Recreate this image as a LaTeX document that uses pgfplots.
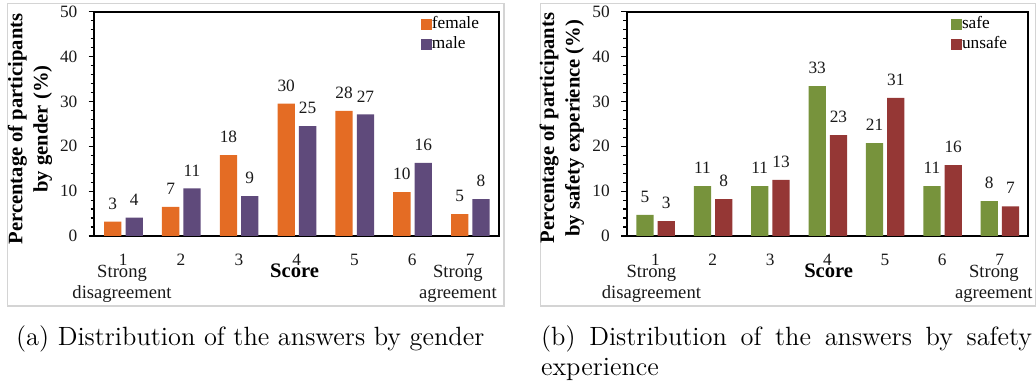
\documentclass[border=0pt]{standalone}
\usepackage{fontspec}
\usepackage{pgfplots}
\pgfplotsset{compat=1.18}
\newfontfamily\tnr{Liberation Serif}
\definecolor{cfem}{HTML}{E46C24}
\definecolor{cmale}{HTML}{5F4A7B}
\definecolor{csafe}{HTML}{77933C}
\definecolor{cunsafe}{HTML}{953735}
\definecolor{boxgray}{HTML}{D4D4D4}
\newcommand\tickfont{\tnr\fontsize{8.65pt}{10pt}\selectfont}
\newcommand\notefont{\tnr\fontsize{9.3pt}{10pt}\selectfont}
\newcommand\titlefont{\tnr\bfseries\fontsize{10.3pt}{12.7pt}\selectfont}
\newcommand\legfont{\tnr\fontsize{8.65pt}{10pt}\selectfont}
\tikzset{note/.style={font=\notefont, text=black!90, anchor=base, inner sep=0pt}}
\pgfplotsset{
  myaxis/.style={
    scale only axis, height=112.15pt, anchor=south west,
    xmin=0.5, xmax=7.5, ymin=0, ymax=50,
    xtick={1,...,7}, ytick={0,10,...,50}, minor ytick={2,4,...,48},
    xtick style={draw=none},
    ytick pos=left, tick align=outside,
    major tick length=2.8pt, minor tick length=1.8pt,
    every tick/.style={black, line width=0.6pt},
    axis line style={line width=1pt},
    ybar, bar width=0.30,
    clip=false,
    /pgf/number format/assume math mode=true,
    ticklabel style={font=\tickfont, text=black!90},
    yticklabel style={inner sep=0pt, xshift=-5.5pt},
    xticklabel style={inner sep=0pt, anchor=base, yshift=-11.85pt},
    nodes near coords, point meta=explicit symbolic,
    every node near coord/.append style={font=\tickfont, text=black!90, anchor=base, inner sep=0pt, yshift=6.2pt},
    legend image code/.code={\fill[##1] (0pt,-2.6pt) rectangle (5.3pt,2.6pt);},
    legend cell align=left,
    legend style={draw=none, fill=none, anchor=north west, font=\legfont,
      inner sep=0pt, row sep=0pt,
      nodes={inner sep=0pt, text height=7pt, text depth=3pt},
      /tikz/every even column/.append style={column sep=1.7pt}},
  },
}
\begin{document}
\begin{tikzpicture}
\useasboundingbox (0,0) rectangle (518pt,192pt);
\draw[boxgray, line width=0.6pt] (3.65pt,39pt) rectangle (252pt,190.35pt);
\draw[boxgray, line width=0.6pt] (270.35pt,39pt) rectangle (517.6pt,190.35pt);

% ---------- (a) ----------
\begin{axis}[myaxis, at={(47.15pt,74pt)}, width=202.35pt,
  legend style={at={(rel axis cs:0.807,0.99)}}]
\addplot[fill=cfem, draw=none, bar shift=-0.18] coordinates {
 (1,3.2) [3] (2,6.5) [7] (3,18.0) [18] (4,29.5) [30] (5,27.9) [28] (6,9.8) [10] (7,4.9) [5]};
\addlegendentry{female}
\addplot[fill=cmale, draw=none, bar shift=0.19] coordinates {
 (1,4.1) [4] (2,10.6) [11] (3,8.9) [9] (4,24.5) [25] (5,27.1) [27] (6,16.3) [16] (7,8.2) [8]};
\addlegendentry{male}
\node[note] at (axis cs:0.98,0) [yshift=-20.85pt] {Strong};
\node[note] at (axis cs:0.98,0) [yshift=-31.15pt] {disagreement};
\node[note] at (axis cs:6.79,0) [yshift=-20.85pt] {Strong};
\node[note] at (axis cs:6.79,0) [yshift=-31.15pt] {agreement};
\node[font=\titlefont, anchor=base, inner sep=0pt] at (axis cs:3.965,0) [yshift=-20.85pt] {Score};
\node[font=\titlefont, align=center, rotate=90, anchor=center, inner sep=0pt] at (rel axis cs:-0.1589,0.477)
  {Percentage of participants\\by gender (\%)};
\end{axis}

% ---------- (b) ----------
\begin{axis}[myaxis, at={(313.35pt,74pt)}, width=200.8pt,
  legend style={at={(rel axis cs:0.8075,0.99)}}]
\addplot[fill=csafe, draw=none, bar shift=-0.18] coordinates {
 (1,4.7) [5] (2,11.1) [11] (3,11.1) [11] (4,33.4) [33] (5,20.7) [21] (6,11.1) [11] (7,7.8) [8]};
\addlegendentry{safe}
\addplot[fill=cunsafe, draw=none, bar shift=0.19] coordinates {
 (1,3.3) [3] (2,8.2) [8] (3,12.5) [13] (4,22.5) [23] (5,30.8) [31] (6,15.8) [16] (7,6.6) [7]};
\addlegendentry{unsafe}
\node[note] at (axis cs:0.93,0) [yshift=-20.85pt] {Strong};
\node[note] at (axis cs:0.93,0) [yshift=-31.15pt] {disagreement};
\node[note] at (axis cs:6.90,0) [yshift=-20.85pt] {Strong};
\node[note] at (axis cs:6.90,0) [yshift=-31.15pt] {agreement};
\node[font=\titlefont, anchor=base, inner sep=0pt] at (axis cs:4.02,0) [yshift=-20.85pt] {Score};
\node[font=\titlefont, align=center, rotate=90, anchor=center, inner sep=0pt] at (rel axis cs:-0.1616,0.481)
  {Percentage of participants\\by safety experience (\%)};
\end{axis}

% ---------- captions ----------
\node[anchor=base west, inner sep=0pt, font=\fontsize{13.2pt}{16pt}\selectfont] at (7.85pt,19.15pt)
  {(a) Distribution of the answers by gender};
\node[anchor=base west, inner sep=0pt, font=\fontsize{13.2pt}{16pt}\selectfont] at (270.35pt,19.15pt)
  {\makebox[245.5pt][s]{(b) Distribution of the answers by safety}};
\node[anchor=base west, inner sep=0pt, font=\fontsize{13.2pt}{16pt}\selectfont] at (270.35pt,4pt)
  {experience};
\end{tikzpicture}
\end{document}
